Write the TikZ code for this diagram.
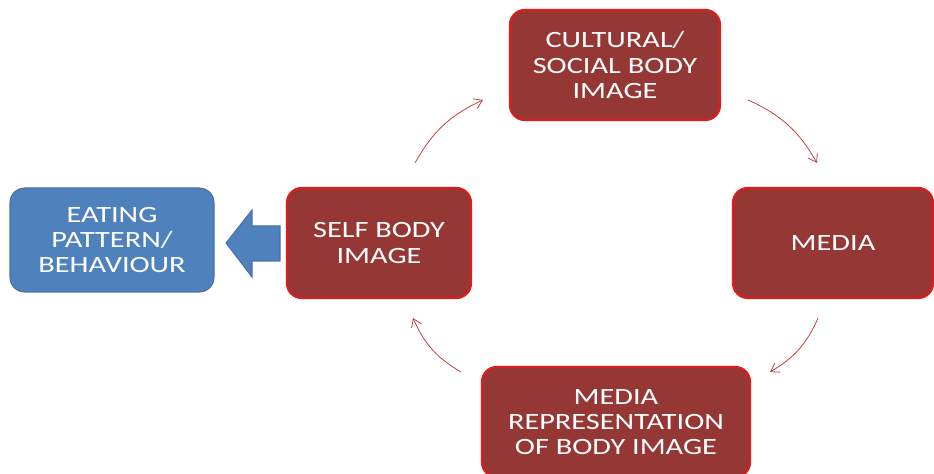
\documentclass[tikz,border=0pt]{standalone}
\usepackage{fontspec}
\setmainfont{Carlito}[FakeStretch=1.3]
\usetikzlibrary{arrows.meta}

\definecolor{boxred}{RGB}{149,55,53}
\definecolor{edgered}{RGB}{222,28,28}
\definecolor{boxblue}{RGB}{79,129,189}
\definecolor{edgeblue}{RGB}{70,115,172}
\definecolor{loopred}{RGB}{196,62,62}

\begin{document}
\begin{tikzpicture}[x=0.75pt,y=0.75pt,
    stage/.style={draw=edgered,line width=1.6pt,fill=boxred,text=white,
        rounded corners=11pt,align=center,inner sep=0,
        font=\fontsize{17.5}{19}\selectfont},
    outcome/.style={stage,draw=edgeblue,line width=0.8pt,fill=boxblue},
    loop/.style={draw=loopred,line width=0.6pt,-{Straight Barb[length=6pt,width=8pt]},bend left=18}]
    \pgfmathsetmacro{\unitpx}{0.75}
    \useasboundingbox (0,0) rectangle (934,474);
    % boxes of the cycle
    \node[outcome,minimum width={204*\unitpx},minimum height={104*\unitpx}] (eating) at (112,234) {EATING\\PATTERN/\\BEHAVIOUR};
    \node[stage,minimum width={184*\unitpx},minimum height={110*\unitpx}] (self) at (379,231) {SELF BODY\\IMAGE};
    \node[stage,minimum width={210*\unitpx},minimum height={110*\unitpx}] (cultural) at (615,409) {CULTURAL/\\SOCIAL BODY\\IMAGE};
    \node[stage,minimum width={200*\unitpx},minimum height={110*\unitpx}] (media) at (833,231) {MEDIA};
    \node[stage,minimum width={268*\unitpx},minimum height={110*\unitpx}] (mediarep) at (616,52) {MEDIA\\REPRESENTATION\\OF BODY IMAGE};
    % block arrow towards eating
    \coordinate (push) at (226,231);
    \draw[edgeblue,line width=0.8pt,fill=boxblue]
        (push) -- ++(26,33) -- ++(0,-16) -- ++(28,0) -- ++(0,-35) -- ++(-28,0) -- ++(0,-16) -- cycle;
    % ends of the curved arrows
    \coordinate (selfout) at (415,311);
    \coordinate (culturalin) at (483,374);
    \coordinate (culturalout) at (748,374);
    \coordinate (mediain) at (817,311);
    \coordinate (mediaout) at (818,156);
    \coordinate (mediarepin) at (770,102);
    \coordinate (mediarepout) at (461,102);
    \coordinate (selfin) at (413,156);
    \draw[loop] (selfout) to (culturalin);
    \draw[loop] (culturalout) to (mediain);
    \draw[loop] (mediaout) to (mediarepin);
    \draw[loop] (mediarepout) to (selfin);
\end{tikzpicture}
\end{document}
